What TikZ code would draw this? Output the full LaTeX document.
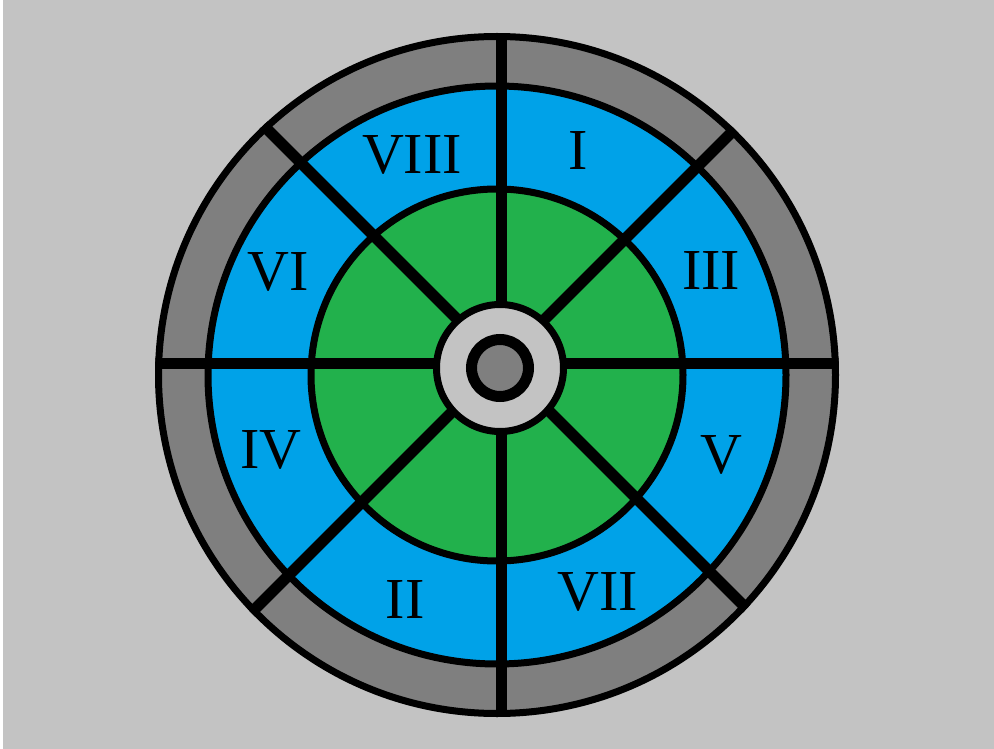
\documentclass[tikz,border=0pt]{standalone}
\usepackage{fontspec}
\setmainfont{Liberation Serif}
\usetikzlibrary{positioning}
\definecolor{lgray}{HTML}{C3C3C3}
\definecolor{dgray}{HTML}{7F7F7F}
\definecolor{pblue}{HTML}{00A2E8}
\definecolor{pgreen}{HTML}{22B14C}

\begin{document}
\begin{tikzpicture}[x=1pt, y=-1pt,
    ring/.style={draw=black, line width=7pt},
    spoke/.style={draw=black, line width=11pt},
    numeral/.style={font=\fontsize{58}{62}\selectfont, inner sep=0pt}
]
\fill[white] (0,0) rectangle (994,749);
\fill[lgray] (3,0) rectangle (994,749);
\useasboundingbox (0,0) rectangle (994,749);
\coordinate (ctr)  at (497,375);
\coordinate (hub)  at (500,368);
\coordinate (axis) at (501,363);
% rings
\path[ring, fill=dgray]  (ctr) circle[radius=338.5];
\path[ring, fill=pblue]  (ctr) circle[radius=289];
\path[ring, fill=pgreen] (ctr) circle[radius=186];
% spokes
\begin{scope}
  \clip (ctr) circle[radius=342];
  \foreach \ang in {0,45,...,315}
    \draw[spoke] (axis) -- ++(\ang:420);
\end{scope}
% hub
\path[ring, fill=lgray] (hub) circle[radius=63.5];
\path[draw=black, line width=11pt, fill=dgray] (hub) circle[radius=28.5];
% numerals
\node[numeral] (n1) at (578,151) {I};
\node[numeral] (n3) at (711,271) {III};
\node[numeral] (n5) at (721,455) {V};
\node[numeral] (n7) at (598,592) {VII};
\node[numeral] (n2) at (405,600) {II};
\node[numeral] (n4) at (271,450) {IV};
\node[numeral] (n6) at (278,272) {VI};
\node[numeral] (n8) at (412,155) {VIII};
\end{tikzpicture}
\end{document}
